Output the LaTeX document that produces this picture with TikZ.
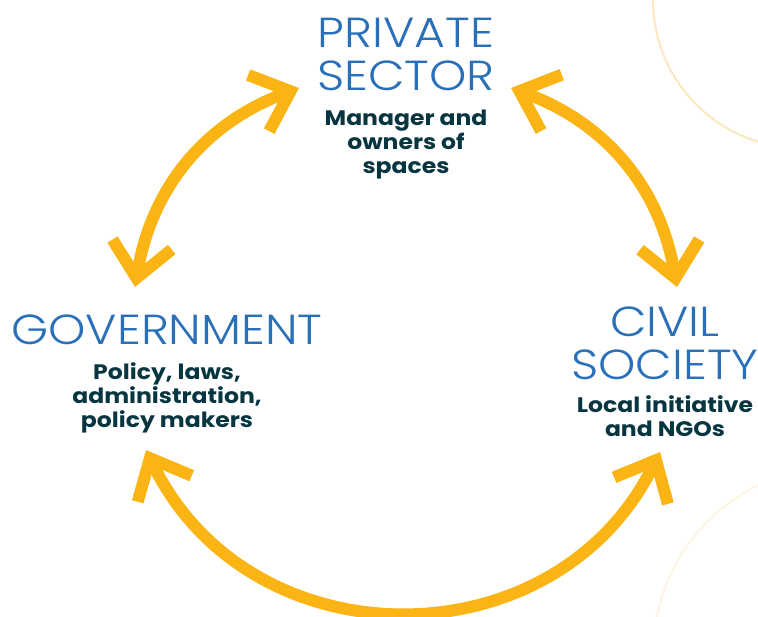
\documentclass[tikz,border=0pt]{standalone}
\usepackage{fontspec}
\setmainfont{Poppins}
\newfontfamily\titlefont{Poppins}[UprightFont={* Light}, FakeStretch=1.13]
\newfontfamily\descfont{Poppins}[UprightFont={* Bold}, FakeStretch=1.12]
\usetikzlibrary{arrows.meta,positioning}

\definecolor{sectorblue}{HTML}{2A70B8}
\definecolor{descdark}{HTML}{073640}
\definecolor{cycleyellow}{HTML}{FAB515}
\definecolor{ringbeige}{HTML}{FCE8BE}
\definecolor{ringpale}{HTML}{FDF5E3}

\tikzset{
  >={Straight Barb[length=34pt,width=60pt]},
  link/.style = {draw=cycleyellow, line width=12pt, <->}
}

\begin{document}
\begin{tikzpicture}[x=1pt, y=-1pt,
  sector/.style = {text=sectorblue, align=center, inner sep=0pt, anchor=north,
                   font=\titlefont\fontsize{42}{43}\selectfont},
  descr/.style  = {text=descdark, align=center, inner sep=0pt,
                   font=\descfont\fontsize{21}{24}\selectfont},
  ]
  \useasboundingbox (0,0) rectangle (758,617);

  % faint rings in the corner
  \draw[ringbeige, line width=2pt] (801,0) circle (148);
  \draw[ringpale, line width=2pt] (841,654) circle (188);

  % the three sectors
  \node[sector] (priv) at (406,18)  {PRIVATE\\SECTOR};
  \node[descr, below=19pt of priv]  (privdesc) {Manager and\\owners of\\spaces};
  \node[sector] (gov)  at (167,315) {GOVERNMENT};
  \node[descr, below=17pt of gov]   (govdesc)  {Policy, laws,\\administration,\\policy makers};
  \node[sector] (civ)  at (665,307) {CIVIL\\SOCIETY};
  \node[descr, below=15pt of civ]   (civdesc)  {Local initiative\\and NGOs};

  % arrow ends
  \coordinate (gov top)  at (135,287);
  \coordinate (priv left) at (299,88);
  \coordinate (priv right) at (511,88);
  \coordinate (civ top)  at (677,287);
  \coordinate (gov low)  at (146,450);
  \coordinate (civ low)  at (660,452);

  \draw[link] (gov top) to[bend left=30] (priv left);
  \draw[link] (priv right) to[bend left=30] (civ top);
  \draw[link] (gov low) to[bend right=64, looseness=1.18] (civ low);
\end{tikzpicture}
\end{document}
